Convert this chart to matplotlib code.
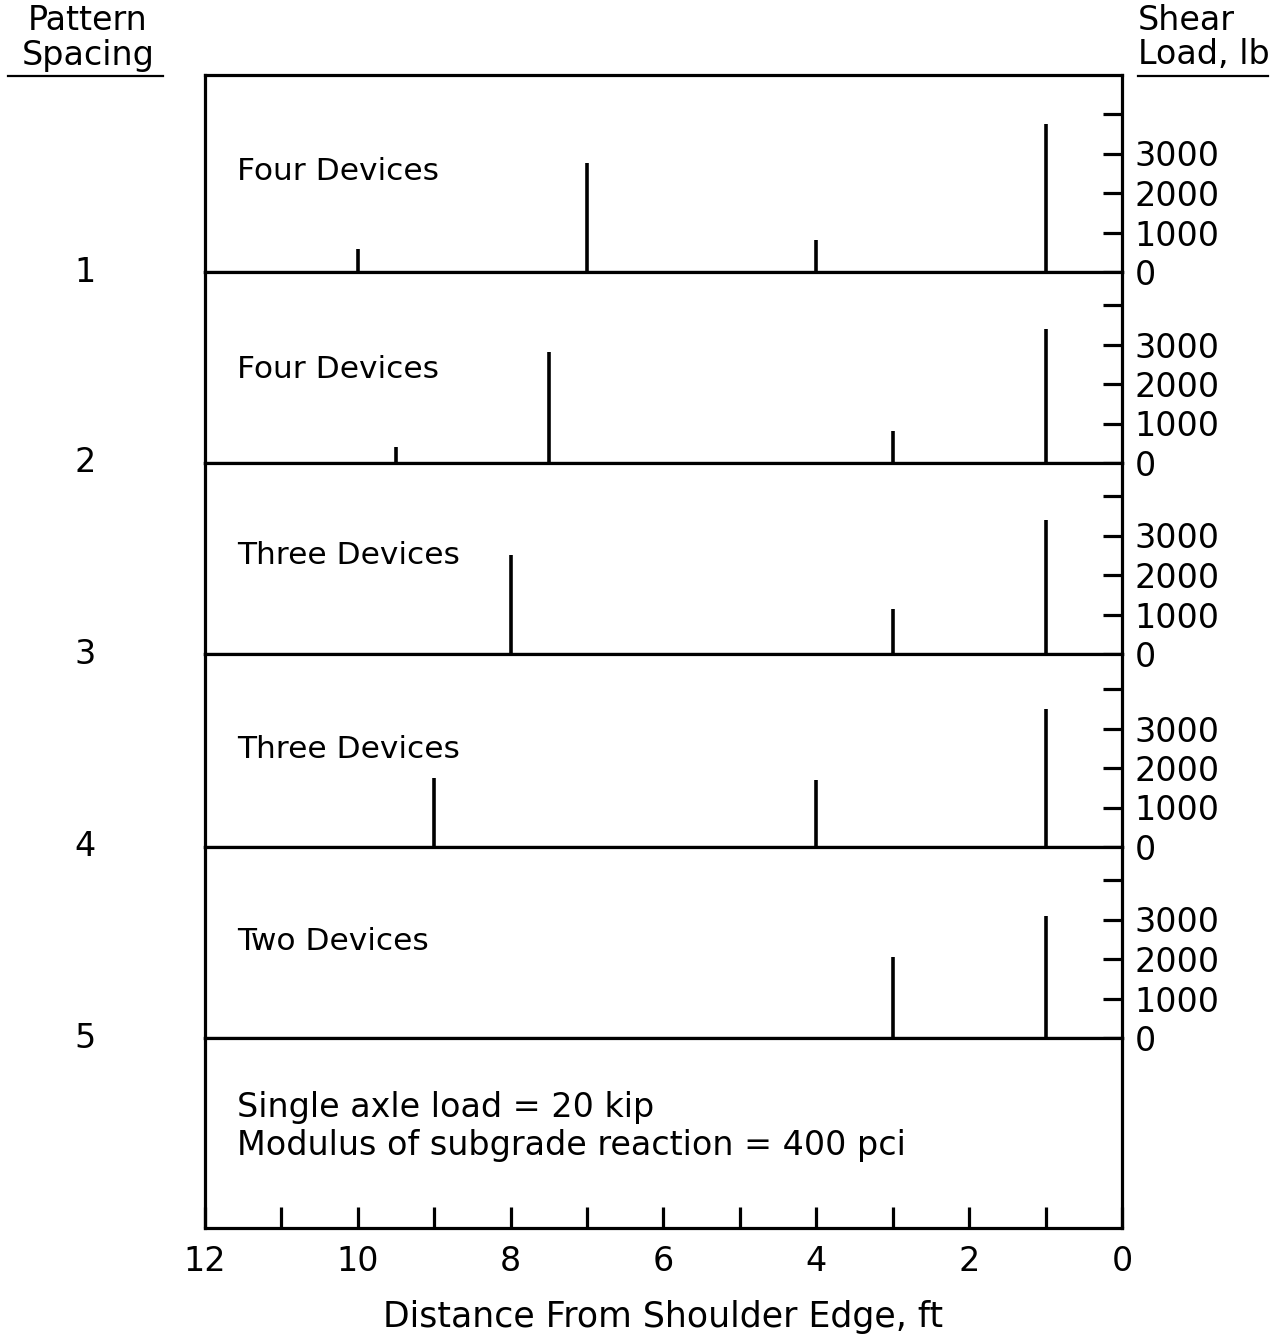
import matplotlib
matplotlib.use("Agg")
import matplotlib.pyplot as plt
from matplotlib.lines import Line2D

# Shear load carried by each load-transfer device, per pattern spacing
pattern_names = ["1", "2", "3", "4", "5"]
device_labels = ["Four Devices", "Four Devices", "Three Devices", "Three Devices", "Two Devices"]

p1_dist = [10, 7, 4, 1]
p1_load = [580, 2750, 800, 3750]
p2_dist = [9.5, 7.5, 3, 1]
p2_load = [400, 2800, 800, 3400]
p3_dist = [8, 3, 1]
p3_load = [2500, 1150, 3400]
p4_dist = [9, 4, 1]
p4_load = [1750, 1700, 3500]
p5_dist = [3, 1]
p5_load = [2050, 3100]

dists = [p1_dist, p2_dist, p3_dist, p4_dist, p5_dist]
loads = [p1_load, p2_load, p3_load, p4_load, p5_load]

load_ticks = [0, 1000, 2000, 3000, 4000]
load_ticklabels = ["0", "1000", "2000", "3000", ""]
dist_ticks = list(range(0, 13))
dist_ticklabels = ["0", "", "2", "", "4", "", "6", "", "8", "", "10", "", "12"]

notes = ["Single axle load = 20 kip", "Modulus of subgrade reaction = 400 pci"]

W, H = 1281, 1334
plt.rcParams["font.family"] = ["DejaVu Sans"]
fig = plt.figure(figsize=(W / 100, H / 100), dpi=100)

def fx(x):
    return x / W

def fy(y):
    return 1 - y / H

LEFT, RIGHT = 205, 1122
edges = [75, 272, 463, 654, 847, 1038, 1228]
PX_PER_KIP = 39.5
LW = 2.3
FS_LABEL = 22.5
FS_TICK = 24

label_y = [171, 369, 555, 750, 942]

for i in range(5):
    top, bot = edges[i], edges[i + 1]
    ax = fig.add_axes([fx(LEFT), fy(bot), fx(RIGHT) - fx(LEFT), (bot - top) / H])
    ax.set_xlim(12, 0)
    ax.set_ylim(0, (bot - top) / PX_PER_KIP * 1000)
    ax.vlines(dists[i], 0, loads[i], color="black", lw=2.6)
    for s in ax.spines.values():
        s.set_linewidth(LW)
    ax.set_xticks([])
    ax.yaxis.tick_right()
    ax.set_yticks(load_ticks)
    ax.set_yticklabels(load_ticklabels)
    ax.tick_params(axis="y", direction="in", length=14, width=LW, pad=9, labelsize=FS_TICK)
    fig.text(fx(237), fy(label_y[i]), device_labels[i], fontsize=FS_LABEL, va="center", ha="left")
    fig.text(fx(85), fy(bot), pattern_names[i], fontsize=FS_TICK, va="center", ha="center")

# bottom panel carries the distance axis and the load notes
axn = fig.add_axes([fx(LEFT), fy(edges[6]), fx(RIGHT) - fx(LEFT), (edges[6] - edges[5]) / H])
axn.set_xlim(12, 0)
axn.set_ylim(0, 1)
axn.set_yticks([])
axn.set_xticks(dist_ticks)
axn.set_xticklabels(dist_ticklabels)
axn.tick_params(axis="x", direction="in", length=15, width=LW, pad=12, labelsize=FS_TICK)
for s in axn.spines.values():
    s.set_linewidth(LW)
axn.set_xlabel("Distance From Shoulder Edge, ft", fontsize=25, labelpad=16)
fig.text(fx(237), fy(1107), notes[0], fontsize=FS_TICK, va="center", ha="left")
fig.text(fx(237), fy(1145), notes[1], fontsize=FS_TICK, va="center", ha="left")

# column headers with underlines
fig.text(fx(88), fy(21), "Pattern", fontsize=FS_TICK, va="center", ha="center")
fig.text(fx(88), fy(55), "Spacing", fontsize=FS_TICK, va="center", ha="center")
fig.text(fx(1138), fy(21), "Shear", fontsize=FS_TICK, va="center", ha="left")
fig.text(fx(1138), fy(55), "Load, lb", fontsize=FS_TICK, va="center", ha="left")
fig.add_artist(Line2D([fx(8), fx(163)], [fy(76), fy(76)], color="black", lw=1.6))
fig.add_artist(Line2D([fx(1138), fx(1268)], [fy(76), fy(76)], color="black", lw=1.6))

fig.savefig("out.png", dpi=100, facecolor="white")
